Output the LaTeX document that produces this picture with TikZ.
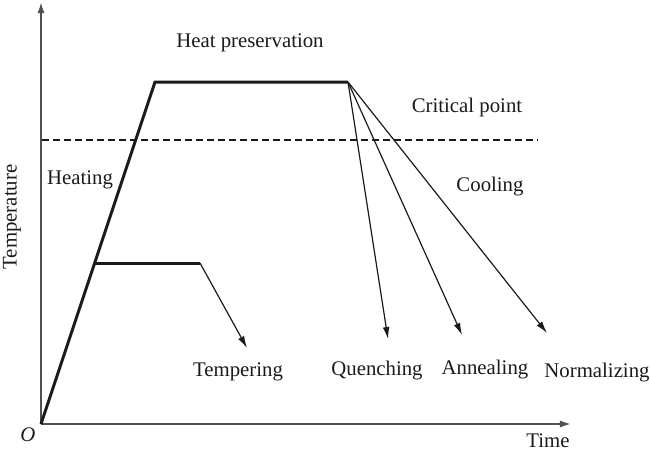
\documentclass[tikz,border=0pt]{standalone}
\usepackage{fontspec}
\setmainfont{Liberation Serif}
\usetikzlibrary{arrows.meta}
\usepackage{xcolor}
\definecolor{axisGray}{HTML}{505050}
\definecolor{lineBlack}{HTML}{1A1A1A}
\tikzset{
    axis/.style={
        draw=axisGray,
        line width=0.9pt,
        -{Latex[length=5.5pt,width=3.5pt]}
    },
    profile/.style={
        draw=lineBlack,
        line width=1.5pt,
        line join=miter
    },
    coolpath/.style={
        draw=lineBlack,
        line width=0.6pt,
        -{Latex[length=6pt,width=3.4pt]}
    },
    critical/.style={
        draw=lineBlack,
        line width=0.6pt,
        dash pattern=on 3.5pt off 2pt
    },
    label/.style={
        font=\fontsize{10.4}{12}\selectfont,
        inner sep=0pt,
        text=lineBlack
    }
}

\begin{document}
\begin{tikzpicture}[x=0.5pt,y=-0.5pt]
    \useasboundingbox (0,0) rectangle (650,450);

    \coordinate (o) at (41,424);
    \coordinate (ytop) at (41,2);
    \coordinate (xend) at (571,424);
    \coordinate (peak) at (155,82);
    \coordinate (hold) at (348,82);
    \coordinate (tstart) at (95,263);
    \coordinate (tend) at (200,263);
    \coordinate (ttip) at (247,348);
    \coordinate (qtip) at (388,339);
    \coordinate (atip) at (462,335);
    \coordinate (ntip) at (547,333);
    \coordinate (cleft) at (42,140);
    \coordinate (cright) at (538,140);

    \draw[axis] (o) -- (ytop);
    \draw[axis] (o) -- (xend);

    \draw[critical] (cleft) -- (cright);

    \draw[profile] (o) -- (peak) -- (hold);
    \draw[profile] (tstart) -- (tend);

    \draw[coolpath] (tend) -- (ttip);
    \draw[coolpath] (hold) -- (qtip);
    \draw[coolpath] (hold) -- (atip);
    \draw[coolpath] (hold) -- (ntip);

    \node[label] (heatpres) at (250,43) {Heat preservation};
    \node[label] (critpt) at (467,107) {Critical point};
    \node[label] (heating) at (80,180) {Heating};
    \node[label] (cooling) at (490,187) {Cooling};
    \node[label] (temper) at (238,372) {Tempering};
    \node[label] (quench) at (377,371) {Quenching};
    \node[label] (anneal) at (485,370) {Annealing};
    \node[label] (normal) at (597,373) {Normalizing};
    \node[label] (time) at (548,441) {Time};
    \node[label, font=\fontsize{10.4}{12}\selectfont\itshape] (orig) at (28,435) {O};
    \node[label, rotate=90] (temp) at (12,217) {Temperature};
\end{tikzpicture}
\end{document}
